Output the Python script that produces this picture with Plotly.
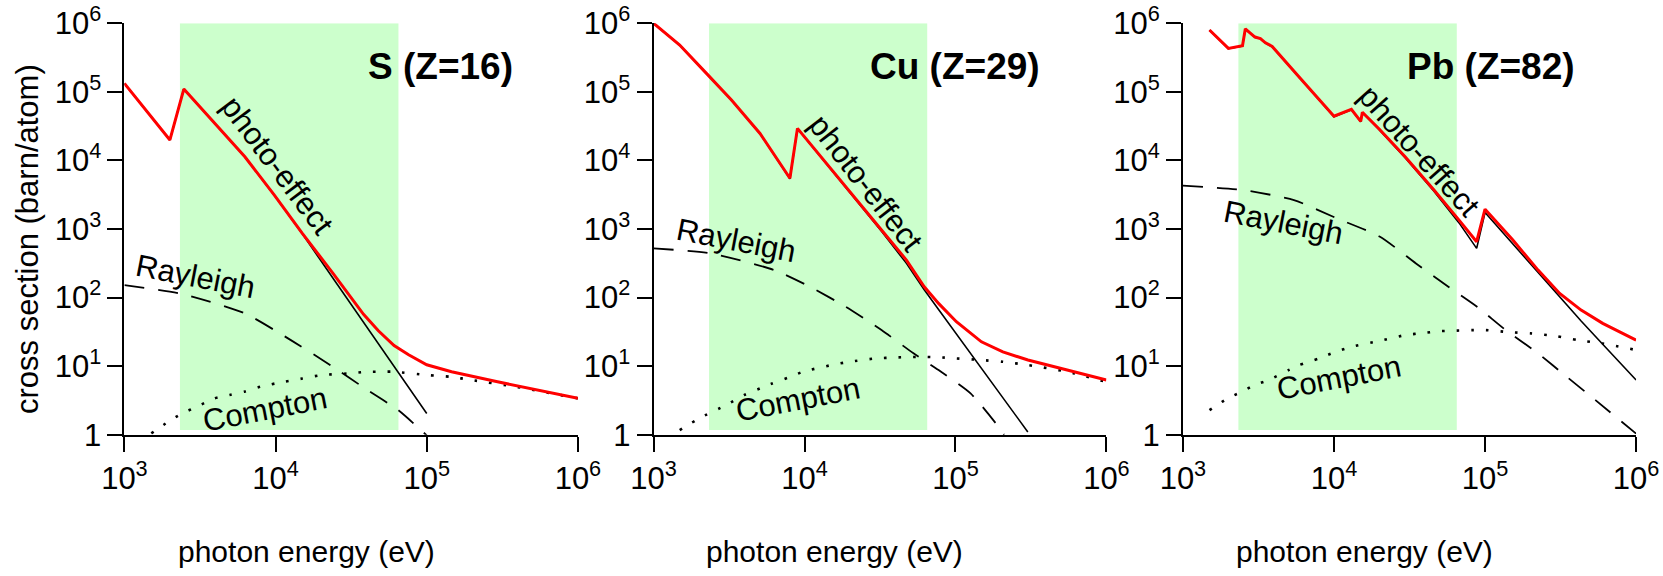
import plotly.graph_objects as go

# ---------------------------------------------------------------
# Photon interaction cross sections (barn/atom) vs photon energy (eV)
# ---------------------------------------------------------------

# Highlighted energy window (eV)
BAND_E = [2330, 65000]
BAND_SIGMA = [1.17, 1.0e6]

# ---- Sulfur (Z=16) ----
S_E_TOTAL = [1000, 2000, 2472, 2940, 4415, 6266, 9817, 15030, 23990, 38190,
             47860, 60810, 75860, 100000, 145900, 293800, 1000000]
S_TOTAL = [1.33e5, 1.99e4, 1.10e5, 7.19e4, 2.62e4, 1.13e4, 3130, 865, 226, 57.0,
           32.9, 20.0, 14.7, 10.5, 8.3, 5.93, 3.40]

S_E_PHOTO = [1000, 2000, 2472, 2940, 4415, 6266, 9817, 15030, 23990, 38190,
             60810, 100000]
S_PHOTO = [1.33e5, 1.99e4, 1.10e5, 7.17e4, 2.61e4, 1.12e4, 3100, 850, 192, 43.9,
           10.0, 2.05]

S_E_RAY = [1000, 2330, 6266, 12620, 23990, 40460, 64570, 100000]
S_RAY = [152, 115, 58.9, 24.0, 9.8, 4.5, 2.3, 0.98]

S_E_COMP = [1507, 1950, 2400, 3020, 3940, 4970, 6266, 7925, 10000, 15030, 19950,
            30200, 40460, 51300, 60300, 102300, 144500, 195000, 389000, 1000000]
S_COMP = [1.05, 1.55, 2.04, 2.57, 3.39, 3.80, 4.27, 5.01, 5.62, 6.61, 7.41,
          7.85, 8.30, 8.32, 8.32, 7.41, 7.01, 6.31, 5.01, 3.40]

# ---- Copper (Z=29) ----
CU_E_TOTAL = [1000, 1489, 2239, 3281, 5070, 8000, 8979, 10860, 15070, 22080,
              32360, 47320, 62090, 77270, 101400, 148600, 206100, 302000,
              493300, 1000000]
CU_TOTAL = [1.0e6, 4.82e5, 1.86e5, 7.60e4, 2.48e4, 5.5e3, 2.94e4, 1.78e4, 7240,
            2650, 966, 353, 144, 82.4, 44.5, 22.7, 16.2, 12.3, 9.29, 6.28]

CU_E_PHOTO = [1000, 1489, 2239, 3281, 5070, 8000, 8979, 10860, 15070, 22080,
              32360, 47320, 62090, 77270, 101400, 148600, 206100, 301500]
CU_PHOTO = [1.0e6, 4.81e5, 1.85e5, 7.55e4, 2.46e4, 5.4e3, 2.92e4, 1.76e4, 7150,
            2600, 930, 316, 130, 67, 29.5, 9.3, 3.47, 1.1]

CU_E_RAY = [1000, 2366, 6310, 10860, 18750, 32360, 52720, 77270, 125900,
            184900, 210000]
CU_RAY = [523, 442, 252, 144, 73.6, 33.7, 15.4, 8.79, 4.02, 1.47, 1.0]

CU_E_COMP = [1489, 2009, 3020, 3972, 5070, 5970, 8054, 9750, 15070, 19820,
             29790, 40180, 50120, 60260, 77270, 101400, 147900, 206100, 302000,
             549500, 1000000]
CU_COMP = [1.17, 1.74, 2.71, 3.79, 4.74, 5.50, 7.01, 8.30, 10.4, 11.6, 13.0,
           13.4, 13.6, 13.7, 13.5, 13.0, 12.3, 11.6, 10.4, 8.30, 5.89]

# ---- Lead (Z=82) ----
PB_E_TOTAL = [1500, 2000, 2480, 2590, 3000, 3260, 3520, 3900, 6000, 10000,
              13040, 15040, 15420, 19910, 29580, 45920, 67300, 88000, 100000,
              152800, 224400, 311900, 432500, 601200, 1000000]
PB_TOTAL = [8.0e5, 4.3e5, 4.7e5, 8.3e5, 6.3e5, 6.0e5, 5.2e5, 4.6e5, 1.57e5,
            4.42e4, 5.57e4, 3.72e4, 5.04e4, 2.88e4, 1.13e4, 3710, 1350, 653,
            1950, 690, 252, 115, 65.8, 42.1, 24.0]

PB_E_PHOTO = PB_E_TOTAL
PB_PHOTO = [7.95e5, 4.27e5, 4.66e5, 8.25e5, 6.26e5, 5.96e5, 5.16e5, 4.55e5,
            1.55e5, 4.35e4, 5.50e4, 3.66e4, 4.97e4, 2.82e4, 1.10e4, 3550, 1230,
            523, 1740, 603, 229, 100, 45.7, 20.9, 6.3]

PB_E_RAY = [1000, 2523, 5433, 10470, 20180, 34910, 57150, 88510, 137100,
            224400, 347500, 538300, 1000000]
PB_RAY = [4285, 3700, 2645, 1429, 773, 315, 144, 73.6, 33.6, 15.4, 7.01, 3.2,
          1.04]

PB_E_COMP = [1500, 1972, 2455, 2972, 3698, 5000, 5888, 7962, 9908, 13030, 20180,
             29580, 40000, 51170, 60260, 83750, 101400, 144900, 200900, 295100,
             409300, 601200, 1000000]
PB_COMP = [2.29, 3.39, 4.24, 5.30, 6.27, 8.77, 10.4, 13.0, 15.7, 19.2, 23.5,
           28.4, 30.7, 32.5, 32.9, 33.6, 33.6, 31.4, 30.1, 27.5, 24.0, 21.5, 17.2]

# Panel titles and curve labels
PANEL_TITLES = ["S (Z=16)", "Cu (Z=29)", "Pb (Z=82)"]
CURVE_LABELS = ["photo-effect", "Rayleigh", "Compton"]

X_TICKS = [1e3, 1e4, 1e5, 1e6]
X_TICKTEXT = ["10<sup>3</sup>", "10<sup>4</sup>", "10<sup>5</sup>", "10<sup>6</sup>"]
Y_TICKS = [1, 1e1, 1e2, 1e3, 1e4, 1e5, 1e6]
Y_TICKTEXT = ["1", "10<sup>1</sup>", "10<sup>2</sup>", "10<sup>3</sup>",
              "10<sup>4</sup>", "10<sup>5</sup>", "10<sup>6</sup>"]

X_TITLE = "photon energy (eV)"
Y_TITLE = "cross section (barn/atom)"

# ---------------------------------------------------------------
FONT = "Liberation Sans, Arial, Helvetica, sans-serif"
W, H = 1663, 576
GREEN = "rgb(204,255,204)"

panels = [
    dict(total=(S_E_TOTAL, S_TOTAL), photo=(S_E_PHOTO, S_PHOTO),
         ray=(S_E_RAY, S_RAY), comp=(S_E_COMP, S_COMP)),
    dict(total=(CU_E_TOTAL, CU_TOTAL), photo=(CU_E_PHOTO, CU_PHOTO),
         ray=(CU_E_RAY, CU_RAY), comp=(CU_E_COMP, CU_COMP)),
    dict(total=(PB_E_TOTAL, PB_TOTAL), photo=(PB_E_PHOTO, PB_PHOTO),
         ray=(PB_E_RAY, PB_RAY), comp=(PB_E_COMP, PB_COMP)),
]

# plot-area placement in pixels (left, right) and shared (top, bottom)
x_px = [(124.4, 577.9), (653.6, 1106.4), (1182.9, 1636.1)]
y_top_px, y_bot_px = 23.3, 434.8

# label anchor positions, in log10 units of each panel's axes
title_pos = [(5.089, 5.367), (4.999, 5.367), (5.042, 5.367)]
photo_pos = [(4.013, 3.933, 53), (4.408, 3.666, 52), (4.566, 4.127, 48)]
ray_pos = [(3.473, 2.304, 11), (3.551, 2.839, 11), (3.668, 3.092, 11)]
comp_pos = [(3.930, 0.369, -11), (3.958, 0.515, -11), (4.036, 0.836, -11)]

TICK_SIZE = 31
XTITLE_SIZE = 30
YTITLE_SIZE = 31
LABEL_SIZE = 31
PANEL_SIZE = 37

fig = go.Figure()
annotations = []

for i, p in enumerate(panels):
    sfx = "" if i == 0 else str(i + 1)
    xa, ya = "x" + sfx, "y" + sfx

    # highlighted window
    fig.add_trace(go.Scatter(
        x=[BAND_E[0], BAND_E[1], BAND_E[1], BAND_E[0], BAND_E[0]],
        y=[BAND_SIGMA[0], BAND_SIGMA[0], BAND_SIGMA[1], BAND_SIGMA[1], BAND_SIGMA[0]],
        mode="lines", fill="toself", fillcolor=GREEN, line=dict(width=0),
        hoverinfo="skip", showlegend=False, xaxis=xa, yaxis=ya))
    # Compton (dotted)
    fig.add_trace(go.Scatter(
        x=p["comp"][0], y=p["comp"][1], mode="lines",
        line=dict(color="black", width=2.6, dash="2.6px,12px", shape="spline",
                  smoothing=0.6),
        showlegend=False, xaxis=xa, yaxis=ya))
    # Rayleigh (dashed)
    fig.add_trace(go.Scatter(
        x=p["ray"][0], y=p["ray"][1], mode="lines",
        line=dict(color="black", width=1.8, dash="20px,14px", shape="spline",
                  smoothing=0.6),
        showlegend=False, xaxis=xa, yaxis=ya))
    # photo-effect (thin black)
    fig.add_trace(go.Scatter(
        x=p["photo"][0], y=p["photo"][1], mode="lines",
        line=dict(color="black", width=1.6),
        showlegend=False, xaxis=xa, yaxis=ya))
    # total (red)
    fig.add_trace(go.Scatter(
        x=p["total"][0], y=p["total"][1], mode="lines",
        line=dict(color="rgb(255,0,0)", width=3),
        showlegend=False, xaxis=xa, yaxis=ya))

    x0, x1 = x_px[i]
    axis_common = dict(
        type="log", showline=True, linecolor="black", linewidth=2,
        ticks="outside", ticklen=15, tickwidth=2, tickcolor="black",
        showgrid=False, zeroline=False, automargin=False,
        tickfont=dict(family=FONT, size=TICK_SIZE, color="black"))
    fig.update_layout({
        "xaxis" + sfx: dict(axis_common, domain=[x0 / W, x1 / W], range=[3, 6],
                            tickvals=X_TICKS, ticktext=X_TICKTEXT, anchor=ya),
        "yaxis" + sfx: dict(axis_common, domain=[1 - y_bot_px / H, 1 - y_top_px / H],
                            range=[0, 6], tickvals=Y_TICKS, ticktext=Y_TICKTEXT,
                            anchor=xa),
    })

    # panel title
    tx, ty = title_pos[i]
    annotations.append(dict(x=tx, y=ty, xref=xa, yref=ya, showarrow=False,
                            xanchor="center", yanchor="middle",
                            text="<b>%s</b>" % PANEL_TITLES[i],
                            font=dict(family=FONT, size=PANEL_SIZE, color="black")))
    for (lx, ly, ang), label in zip((photo_pos[i], ray_pos[i], comp_pos[i]),
                                    CURVE_LABELS):
        annotations.append(dict(x=lx, y=ly, xref=xa, yref=ya, showarrow=False,
                                xanchor="center", yanchor="middle",
                                text=label, textangle=ang,
                                font=dict(family=FONT, size=LABEL_SIZE, color="black")))

    # x-axis title, set slightly left of the axis centre
    annotations.append(dict(x=((x0 + x1) / 2 - 45) / W, y=1 - 551 / H,
                            xref="paper", yref="paper", showarrow=False,
                            text=X_TITLE, xanchor="center", yanchor="middle",
                            font=dict(family=FONT, size=XTITLE_SIZE, color="black")))

# y-axis title (first panel only)
annotations.append(dict(x=27 / W, y=1 - 239 / H, xref="paper", yref="paper",
                        showarrow=False, text=Y_TITLE, textangle=-90,
                        xanchor="center", yanchor="middle",
                        font=dict(family=FONT, size=YTITLE_SIZE, color="black")))

fig.update_layout(
    template="none",
    width=W, height=H, margin=dict(l=0, r=0, t=0, b=0, pad=0, autoexpand=False),
    paper_bgcolor="white", plot_bgcolor="white",
    annotations=annotations, showlegend=False,
)

fig.write_html("out.html")
